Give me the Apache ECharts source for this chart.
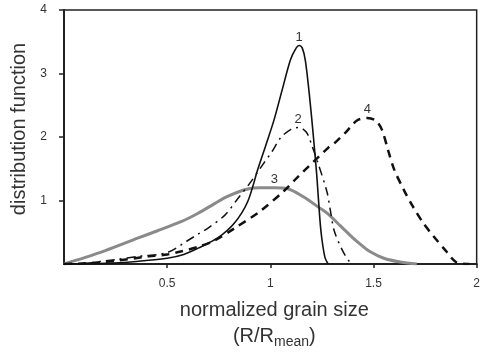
<!DOCTYPE html>
<html>
<head>
<meta charset="utf-8">
<script src="https://cdn.jsdelivr.net/npm/echarts@6/dist/echarts.min.js"></script>
<style>
  html, body { margin: 0; padding: 0; background: #fff; }
  #chart { width: 483px; height: 354px; }
</style>
</head>
<body>
<div id="chart"></div>
<script>
// [x, y] pairs
const curve1 = [[0,0],[0.2,0.01],[0.35,0.04],[0.5,0.09],[0.58,0.15],[0.65,0.25],[0.745,0.41],[0.825,0.64],[0.89,0.98],[0.94,1.5],[0.977,1.86],[1.018,2.27],[1.058,2.75],[1.098,3.22],[1.125,3.4],[1.14,3.44],[1.155,3.4],[1.17,3.2],[1.19,2.64],[1.21,1.96],[1.225,1.4],[1.24,0.71],[1.25,0.39],[1.265,0.1],[1.28,0]];
const curve2 = [[0,0],[0.1,0.01],[0.25,0.07],[0.36,0.12],[0.5,0.18],[0.6,0.37],[0.65,0.47],[0.7,0.57],[0.78,0.77],[0.84,1.02],[0.9,1.27],[0.96,1.55],[1.01,1.78],[1.05,1.99],[1.1,2.12],[1.135,2.15],[1.16,2.12],[1.18,2.05],[1.2,1.88],[1.23,1.6],[1.275,1.13],[1.29,0.86],[1.31,0.52],[1.35,0.21],[1.385,0.03],[1.4,0]];
const curve3 = [[0,0],[0.1,0.1],[0.2,0.21],[0.36,0.41],[0.45,0.52],[0.57,0.67],[0.65,0.8],[0.73,0.95],[0.79,1.06],[0.89,1.18],[0.95,1.2],[1.02,1.2],[1.08,1.19],[1.16,1.06],[1.24,0.88],[1.275,0.8],[1.34,0.6],[1.4,0.41],[1.44,0.3],[1.48,0.2],[1.55,0.09],[1.63,0.03],[1.71,0]];
const curve4 = [[0,0],[0.1,0.01],[0.25,0.05],[0.41,0.12],[0.5,0.15],[0.57,0.2],[0.65,0.27],[0.73,0.37],[0.825,0.56],[0.95,0.83],[1.066,1.15],[1.13,1.36],[1.28,1.83],[1.31,1.9],[1.37,2.09],[1.42,2.26],[1.47,2.3],[1.51,2.26],[1.54,2.12],[1.57,1.8],[1.6,1.49],[1.645,1.18],[1.69,0.91],[1.74,0.65],[1.79,0.44],[1.85,0.21],[1.9,0.03],[1.965,0]];

// where the curve numbers sit
const curveTags = [
  { name: "1", at: [1.14, 3.44] },
  { name: "2", at: [1.135, 2.15] },
  { name: "3", at: [1.02, 1.2] },
  { name: "4", at: [1.47, 2.3] },
];

const xTicks = [0.5, 1, 1.5, 2];
const yTicks = [1, 2, 3, 4];

const FONT = "Liberation Sans";
const AXIS = "#222";
const TEXT = "#333";

const chart = echarts.init(document.getElementById("chart"));

function tag(i) {
  return {
    symbol: "circle",
    symbolSize: 0,
    label: {
      show: true,
      position: "top",
      distance: 2,
      fontFamily: FONT,
      fontSize: 13,
      color: TEXT,
      formatter: curveTags[i].name,
    },
    data: [{ coord: curveTags[i].at }],
  };
}

const option = {
  animation: false,
  grid: {
    left: 64,
    right: 5,
    top: 10,
    bottom: 88,
    show: true,
    borderColor: AXIS,
    borderWidth: 1.5,
  },
  xAxis: {
    type: "value",
    min: 0,
    max: 2,
    interval: 0.5,
    name: "normalized grain size\n(R/R{sub|mean})",
    nameLocation: "middle",
    nameGap: 33,
    nameTextStyle: {
      fontFamily: FONT,
      fontSize: 20,
      color: TEXT,
      lineHeight: 26,
      padding: [0, 0, 0, 8],
      rich: {
        sub: { fontFamily: FONT, fontSize: 14, color: TEXT, verticalAlign: "bottom", padding: [9, 0, 0, 0] },
      },
    },
    axisLine: { lineStyle: { color: AXIS, width: 2 } },
    axisTick: { customValues: xTicks, length: 4, lineStyle: { color: AXIS, width: 1.5 } },
    axisLabel: { customValues: xTicks, fontFamily: FONT, fontSize: 12, color: TEXT, margin: 14 },
    splitLine: { show: false },
  },
  yAxis: {
    type: "value",
    min: 0,
    max: 4,
    interval: 1,
    name: "distribution function",
    nameLocation: "middle",
    nameGap: 35,
    nameTextStyle: { fontFamily: FONT, fontSize: 20, color: TEXT, padding: [0, 0, 0, 16] },
    axisLine: { lineStyle: { color: AXIS, width: 2 } },
    axisTick: { customValues: yTicks, length: 5, lineStyle: { color: AXIS, width: 1.5 } },
    axisLabel: { customValues: yTicks, fontFamily: FONT, fontSize: 12, color: TEXT, margin: 17 },
    splitLine: { show: false },
  },
  series: [
    {
      name: "3",
      type: "line",
      data: curve3,
      smooth: 0.3,
      showSymbol: false,
      lineStyle: { color: "#8a8a8a", width: 3 },
      markPoint: tag(2),
    },
    {
      name: "4",
      type: "line",
      data: curve4,
      smooth: 0.3,
      showSymbol: false,
      lineStyle: { color: "#111", width: 2.5, type: [8, 6] },
      markPoint: tag(3),
    },
    {
      name: "2",
      type: "line",
      data: curve2,
      smooth: 0.3,
      showSymbol: false,
      lineStyle: { color: "#111", width: 1.5, type: [9, 5, 2, 5] },
      markPoint: tag(1),
    },
    {
      name: "1",
      type: "line",
      data: curve1,
      smooth: 0.3,
      showSymbol: false,
      lineStyle: { color: "#111", width: 1.6 },
      markPoint: tag(0),
    },
  ],
};

chart.setOption(option);
</script>
</body>
</html>
